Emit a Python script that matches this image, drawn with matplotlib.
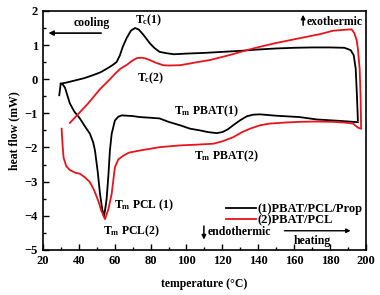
import matplotlib
matplotlib.use("Agg")
import matplotlib.pyplot as plt
from matplotlib.ticker import MultipleLocator

plt.rcParams['font.family'] = ['Liberation Serif', 'DejaVu Serif']
plt.rcParams['font.weight'] = 'bold'
plt.rcParams['mathtext.fontset'] = 'custom'
plt.rcParams['mathtext.rm'] = 'Liberation Serif:bold'
plt.rcParams['mathtext.bf'] = 'Liberation Serif:bold'
plt.rcParams['mathtext.it'] = 'Liberation Serif:bold'

# Sample (1) PBAT/PCL/Prop
cool1_T = [195.5, 195.0, 194.3, 193.2, 191.5, 188, 180, 170, 160, 150, 140, 130, 120, 110, 100,
           93, 89, 85, 82, 79.6, 76, 73.5, 71.3, 69, 66.6, 64.5, 62.9, 61, 59, 56, 52, 48, 43, 36.9, 33, 29.9]
cool1_HF = [-1.2, -0.5, 0.3, 0.7, 0.85, 0.92, 0.93, 0.93, 0.92, 0.9, 0.87, 0.83, 0.8, 0.77, 0.75,
            0.73, 0.76, 0.8, 0.92, 1.05, 1.3, 1.45, 1.5, 1.42, 1.2, 0.95, 0.7, 0.5, 0.42, 0.32, 0.2, 0.12, 0.03, -0.05, -0.1, -0.13]
heat1_T = [29.1, 29.9, 31, 32.3, 35, 37.5, 40.6, 43, 46.2, 48, 49, 50.5, 51.8, 53, 54, 55, 55.5, 56.5, 57.3,
           58.3, 60.1, 62, 63.9, 70, 74, 80, 85, 90, 96.4, 102, 107.5, 112, 116.8, 120, 123, 126, 130,
           133.5, 137, 141, 150, 163, 172.6, 185, 195.5]
heat1_HF = [-0.47, -0.13, -0.15, -0.25, -0.71, -0.95, -1.15, -1.35, -1.6, -1.85, -2.09, -2.7, -3.36, -3.8, -4.03,
            -3.7, -3.5, -2.8, -2.1, -1.6, -1.21, -1.1, -1.06, -1.08, -1.11, -1.13, -1.15, -1.25, -1.35, -1.45, -1.5,
            -1.55, -1.58, -1.55, -1.47, -1.35, -1.2, -1.09, -1.04, -1.03, -1.07, -1.11, -1.18, -1.22, -1.26]

# Sample (2) PBAT/PCL
cool2_T = [197.3, 197.0, 196.5, 195.5, 194.8, 193.5, 192, 189, 181.7, 174.4, 163, 150, 141, 133.5, 125, 113,
           106, 102, 96.4, 90, 87, 83, 79.6, 77, 75, 72.5, 70.3, 67, 63, 60, 57, 52, 45, 40, 35]
cool2_HF = [-1.4, -0.5, 0.3, 0.9, 1.15, 1.35, 1.46, 1.45, 1.42, 1.32, 1.2, 1.06, 0.95, 0.85, 0.72, 0.56,
            0.5, 0.46, 0.41, 0.4, 0.41, 0.48, 0.56, 0.61, 0.63, 0.62, 0.56, 0.43, 0.3, 0.15, -0.02, -0.28, -0.72, -1.0, -1.28]
heat2_T = [30.4, 30.9, 31.5, 33, 35, 38, 40.6, 43.5, 46.2, 48.5, 50.8, 52.5, 54.6, 56.5, 58.3, 60.1, 62, 64.8,
           68, 74, 79.6, 85.2, 96.4, 105, 115, 120, 126, 131, 135.4, 141, 146.5, 155, 163, 172, 181.6, 188,
           192.8, 195.6, 197.3]
heat2_HF = [-1.45, -1.9, -2.3, -2.55, -2.66, -2.74, -2.77, -2.88, -3.02, -3.25, -3.56, -3.85, -4.1, -3.8, -3.36,
            -2.58, -2.35, -2.24, -2.15, -2.09, -2.04, -1.99, -1.94, -1.92, -1.89, -1.82, -1.7, -1.55, -1.45, -1.35,
            -1.3, -1.27, -1.25, -1.24, -1.25, -1.27, -1.3, -1.42, -1.45]

x_ticks = [20, 40, 60, 80, 100, 120, 140, 160, 180, 200]
y_ticks = [-5, -4, -3, -2, -1, 0, 1, 2]
labels = ['(1)PBAT/PCL/Prop', '(2)PBAT/PCL']

fig = plt.figure(figsize=(3.8, 2.95), dpi=100)
ax = fig.add_axes([0.113, 0.153, 0.850, 0.810])

lw = 1.3
ax.plot(cool1_T, cool1_HF, color='black', lw=lw, label=labels[0])
ax.plot(heat1_T, heat1_HF, color='black', lw=lw)
ax.plot(cool2_T, cool2_HF, color='#e8141b', lw=lw, label=labels[1])
ax.plot(heat2_T, heat2_HF, color='#e8141b', lw=lw)

ax.set_xlim(20, 200)
ax.set_ylim(-5, 2)
ax.set_xticks(x_ticks)
ax.set_yticks(y_ticks)
ax.xaxis.set_minor_locator(MultipleLocator(10))
ax.yaxis.set_minor_locator(MultipleLocator(0.5))
ax.tick_params(which='both', direction='in', labelsize=9, width=1)
ax.tick_params(which='major', length=4)
ax.tick_params(which='minor', length=2)
for lab in ax.get_xticklabels() + ax.get_yticklabels():
    lab.set_fontweight('bold')
for s in ax.spines.values():
    s.set_linewidth(1.2)

ax.set_xlabel('temperature (°C)', fontsize=8.5, fontweight='bold', labelpad=8)
ax.set_ylabel('heat flow (mW)', fontsize=8.5, fontweight='bold', labelpad=3)

fs = 8.5
ax.text(37, 1.66, 'cooling', fontsize=fs, fontweight='bold', va='center', ha='left')
ax.annotate('', xy=(21.5, 1.35), xytext=(54, 1.35),
            arrowprops=dict(arrowstyle='-|>', color='black', lw=1.2, mutation_scale=7))
ax.text(71.3, 1.72, r'T$_\mathrm{c}$(1)', fontsize=fs, fontweight='bold', va='center', ha='left')
ax.text(72.5, 0.03, r'T$_\mathrm{c}$(2)', fontsize=fs, fontweight='bold', va='center', ha='left')
ax.text(93, -0.95, r'T$_\mathrm{m}$ PBAT(1)', fontsize=fs, fontweight='bold', va='center', ha='left')
ax.text(104, -2.25, r'T$_\mathrm{m}$ PBAT(2)', fontsize=fs, fontweight='bold', va='center', ha='left')
ax.text(59.5, -3.68, r'T$_\mathrm{m}$ PCL (1)', fontsize=fs, fontweight='bold', va='center', ha='left')
ax.text(53.5, -4.47, r'T$_\mathrm{m}$ PCL(2)', fontsize=fs, fontweight='bold', va='center', ha='left')

ax.annotate('', xy=(165, 1.97), xytext=(165, 1.5),
            arrowprops=dict(arrowstyle='-|>', color='black', lw=1.1, mutation_scale=6))
ax.text(167, 1.68, 'exothermic', fontsize=fs, fontweight='bold', va='center', ha='left')
ax.annotate('', xy=(109.7, -4.78), xytext=(109.7, -4.22),
            arrowprops=dict(arrowstyle='-|>', color='black', lw=1.1, mutation_scale=6))
ax.text(111.5, -4.47, 'endothermic', fontsize=fs, fontweight='bold', va='center', ha='left')
ax.annotate('', xy=(193, -4.44), xytext=(153, -4.44),
            arrowprops=dict(arrowstyle='-|>', color='black', lw=1.0, mutation_scale=6))
ax.text(170, -4.73, 'heating', fontsize=fs, fontweight='bold', va='center', ha='center')

leg = ax.legend(loc='upper right', bbox_to_anchor=(1.0, 0.21), frameon=False, fontsize=9,
                handlelength=2.4, handletextpad=0.1, labelspacing=-0.1, borderpad=0.2, borderaxespad=0.1)
for t in leg.get_texts():
    t.set_fontweight('bold')

fig.savefig('out.png', dpi=100)
